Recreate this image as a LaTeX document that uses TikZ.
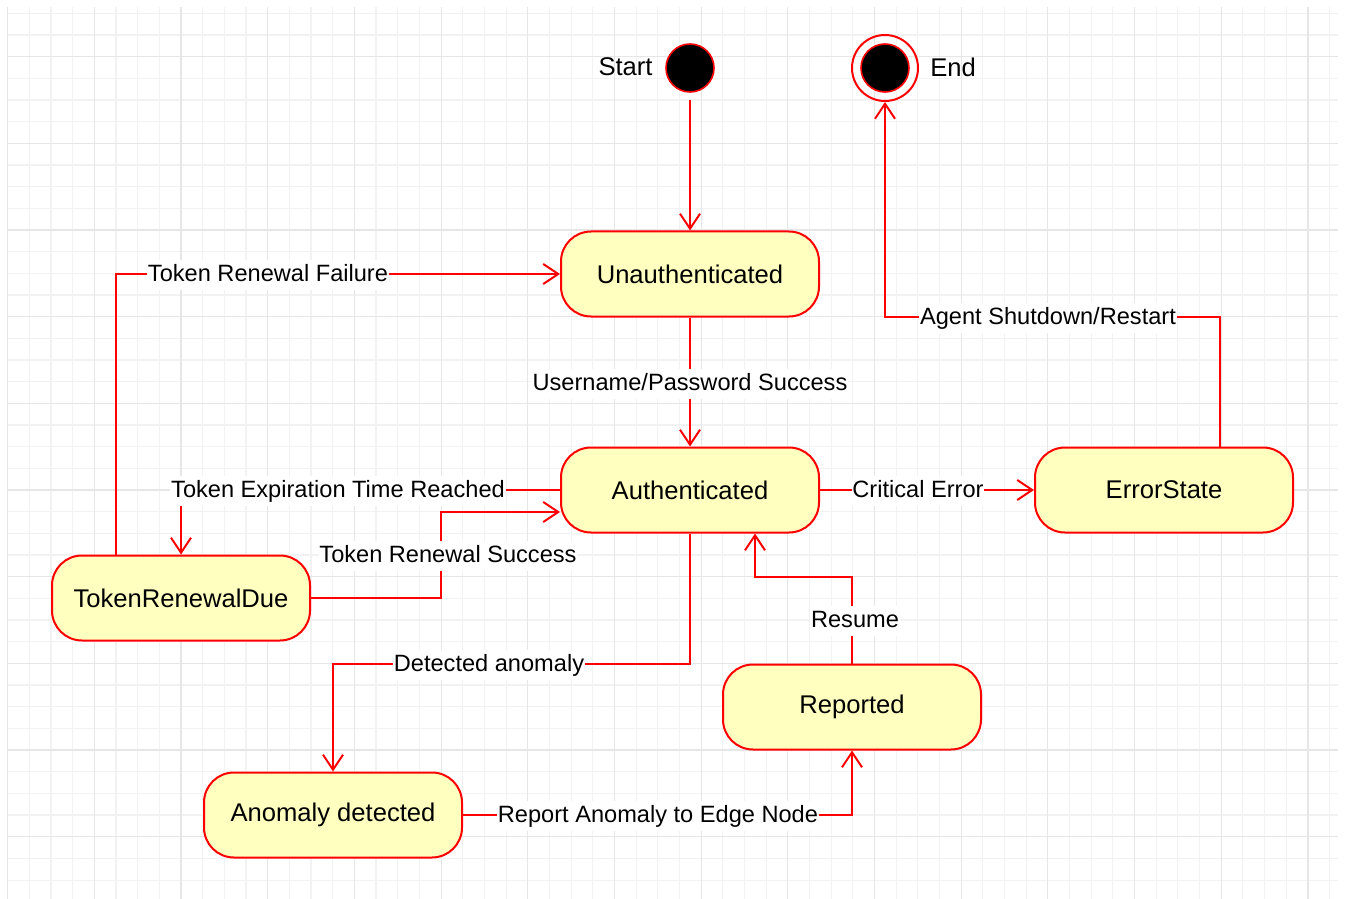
\documentclass[tikz,border=0pt]{standalone}
\usepackage{fontspec}
\setmainfont{Liberation Sans}
\usetikzlibrary{arrows.meta,calc}
\definecolor{stfill}{HTML}{FFFFC0}
\definecolor{gridminor}{HTML}{F2F2F2}
\definecolor{gridmajor}{HTML}{E6E6E6}
\tikzset{
  state/.style={draw=red,fill=stfill,line width=1pt,rounded corners=15pt,
    minimum width=129pt,minimum height=42.5pt,font=\fontsize{12.8pt}{15pt}\selectfont,inner sep=0pt},
  conn/.style={draw=red,line width=1pt,-{Straight Barb[length=7.5pt,width=10pt,line width=1pt]}},
  lbl/.style={fill=white,inner xsep=0.4pt,inner ysep=2pt,text height=8.8pt,text depth=2.6pt,
    font=\fontsize{11.8pt}{14pt}\selectfont},
  term/.style={circle,draw=red,fill=black,line width=0.8pt,minimum size=24pt,inner sep=0pt},
  side/.style={inner sep=0pt,font=\fontsize{12.8pt}{15pt}\selectfont},
  gminor/.style={draw=gridminor,line width=0.6pt},
  gmajor/.style={draw=gridmajor,line width=0.6pt}
}
\begin{document}
\begin{tikzpicture}[x=0.5pt,y=-0.5pt]
\useasboundingbox (0,0) rectangle (1346,899);
% grid
\foreach \i in {0,...,61}{
  \pgfmathsetmacro\gx{7.7+21.67*\i}
  \draw[gminor] (\gx,7) -- (\gx,899);
}
\foreach \j in {0,...,41}{
  \pgfmathsetmacro\gy{13.3+21.67*\j}
  \draw[gminor] (8,\gy) -- (1338,\gy);
}
\foreach \i in {0,...,15}{
  \pgfmathsetmacro\gx{7.7+86.68*\i}
  \draw[gmajor] (\gx,7) -- (\gx,899);
}
\foreach \j in {0,...,10}{
  \pgfmathsetmacro\gy{56.64+86.68*\j}
  \draw[gmajor] (8,\gy) -- (1338,\gy);
}
% terminals
\node[term] (start) at (690,68) {};
\node[side,anchor=east] (startl) at (653,67) {Start};
\node[circle,draw=red,line width=1pt,minimum size=33pt,inner sep=0pt] (end) at (885,68) {};
\node[term] (endin) at (885,68) {};
\node[side,anchor=west] (endl) at (930,67) {End};
% states
\node[state] (unauth) at (690,274) {Unauthenticated};
\node[state] (auth) at (690,490) {Authenticated};
\node[state] (err) at (1164,490) {ErrorState};
\node[state] (trd) at (181,598) {TokenRenewalDue};
\node[state] (rep) at (852,707) {Reported};
\node[state] (anom) at (333,815) {Anomaly detected};
% bend coordinates
\coordinate (s0) at (690,100);
\coordinate (e1) at (1220,317);
\coordinate (e2) at (885,317);
\coordinate (t1) at (116,274);
\coordinate (r1) at (441,512);
\coordinate (a1) at (690,664);
\coordinate (a2) at (333,664);
\coordinate (m1) at (852,577);
\coordinate (m2) at (755,577);
% connectors
\draw[conn] (s0) -- (unauth.north);
\draw[conn] (unauth.south) -- (auth.north);
\draw[conn] (auth.east) -- (err.west);
\draw[conn] (err.north -| e1) -- (e1) -- (e2) -- (end.south);
\draw[conn] (auth.west) -| (trd.north);
\draw[conn] (trd.east) -| (r1) -- (r1 -| auth.west);
\draw[conn] (trd.north -| t1) -- (t1) -- (unauth.west);
\draw[conn] (auth.south) -- (a1) -- (a2) -- (anom.north);
\draw[conn] (anom.east) -| (rep.south);
\draw[conn] (rep.north) -- (m1) -- (m2) -- (m2 |- auth.south);
% labels
\node[lbl] (l1) at (690,384) {Username/Password Success};
\node[lbl] (l2) at (918,491) {Critical Error};
\node[lbl] (l3) at (1048,318) {Agent Shutdown/Restart};
\node[lbl] (l4) at (338,491) {Token Expiration Time Reached};
\node[lbl] (l5) at (448,556) {Token Renewal Success};
\node[lbl] (l6) at (268,275) {Token Renewal Failure};
\node[lbl] (l7) at (489,665) {Detected anomaly};
\node[lbl] (l8) at (658,816) {Report Anomaly to Edge Node};
\node[lbl] (l9) at (855,621) {Resume};
\end{tikzpicture}
\end{document}
